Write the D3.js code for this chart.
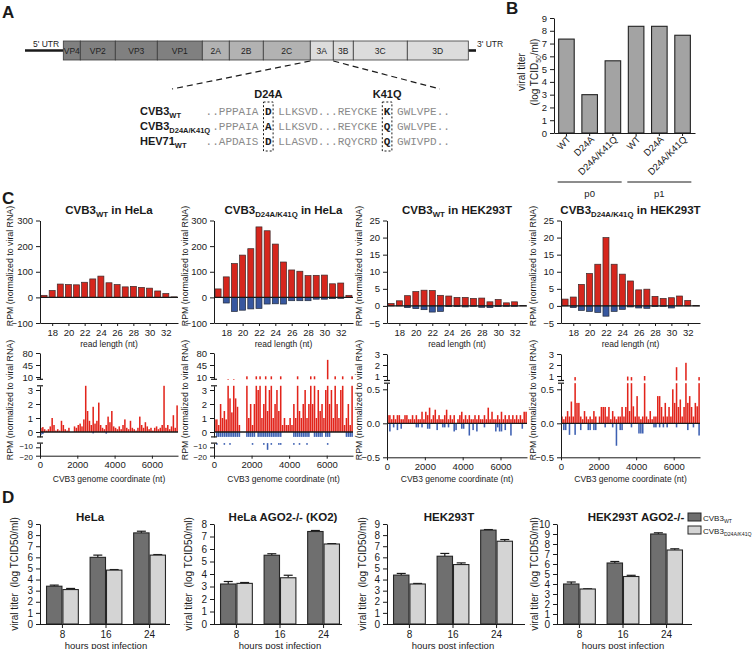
<!DOCTYPE html>
<html><head><meta charset="utf-8">
<script src="https://cdn.jsdelivr.net/npm/d3@7/dist/d3.min.js"></script>
<style>html,body{margin:0;padding:0;background:#fff;} text{white-space:pre;}</style>
</head><body>
<script>
// ======================= DATA =======================
// Panel A – genome map and alignment
const genomeSegments   = ["VP4","VP2","VP3","VP1","2A","2B","2C","3A","3B","3C","3D"];
const genomeSegLengths = [17,35,42,45,27,34,47,23,20,54,61];
const genomeSegRegion  = ["P1","P1","P1","P1","P2","P2","P2","P3","P3","P3","P3"];
const seqNames    = ["CVB3","CVB3","HEV71"];
const seqNameSubs = ["WT","D24A/K41Q","WT"];
const seqLeft  = ["..PPPAIA","..PPPAIA","..APDAIS"];
const seqSite1 = ["D","A","D"];
const seqMid   = ["LLKSVD...REYCKE","LLKSVD...REYCKE","LLASVD...RQYCRD"];
const seqSite2 = ["K","Q","Q"];
const seqRight = ["GWLVPE..","GWLVPE..","GWIVPD.."];
const mutationLabels = ["D24A","K41Q"];

// Panel B – viral titer
const titerCategories = ["WT","D24A","D24A/K41Q","WT","D24A","D24A/K41Q"];
const titerPassage    = ["p0","p0","p0","p1","p1","p1"];
const titerValues     = [7.35,3.0,5.65,8.35,8.35,7.65];
const titerTicks      = [0,1,2,3,4,5,6,7,8,9];

// Panel C row 1 – read length distributions
const readLengths   = [17,18,19,20,21,22,23,24,25,26,27,28,29,30,31,32,33];
const rlTickValues  = [18,20,22,24,26,28,30,32];
const rlSubs        = ["WT","D24A/K41Q","WT","D24A/K41Q"];
const rlCells       = ["HeLa","HeLa","HEK293T","HEK293T"];
const rlTicksHela   = [-100,0,100,200,300];
const rlTicksHek    = [-5,0,5,10,15,20,25];
const rlWtHelaPos   = [8,27,52,50,49,59,72,83,57,50,41,43,39,36,25,15,2];
const rlWtHelaNeg   = [0,0,0,0,0,0,0,0,0,0,0,0,0,0,0,0,0];
const rlMutHelaPos  = [33,80,132,165,190,275,260,208,138,107,102,85,86,87,53,56,8];
const rlMutHelaNeg  = [0,-22,-55,-50,-45,-43,-26,-25,-26,-13,-13,-13,-7,-7,-5,-4,0];
const rlWtHekPos    = [0.7,1.5,3.0,4.2,4.6,4.5,3.1,2.9,2.5,2.5,2.2,2.3,1.2,1.9,0.9,1.2,0.1];
const rlWtHekNeg    = [0,0,-0.5,-0.8,-1.1,-1.8,-1.6,-0.2,-0.2,-0.3,-0.1,-0.4,-0.5,-0.2,-0.1,-0.1,0];
const rlMutHekPos   = [2.0,2.6,6.3,9.5,12.2,20,12.2,9.3,7.3,4.7,4.9,2.8,2.2,2.4,2.9,1.6,0.1];
const rlMutHekNeg   = [0,-0.5,-1.3,-1.6,-1.9,-3.0,-1.6,-1.0,-0.3,-0.6,-0.7,-0.2,-0.1,-0.6,0,0,0];

// Panel C row 2 – coverage along genome (100-nt bins)
const covBinStarts = d3.range(0, 7400, 100);
const covTicks     = [0,2000,4000,6000];
const covWtHelaPos = [0.3,0.35,0.2,0.1,0.2,0.4,1.0,0.5,0.1,0.2, 0.1,0.8,0.5,0.2,0.1,0.3,0,0,0.4,0.3,
  0.5,0.6,0.4,0.9,3.3,1.5,0.8,0.5,1.8,0.6, 0.8,2.1,0.5,0.3,0.2,0.5,1.1,0.7,1.5,0.4,
  0.3,0.2,0.4,0.2,0.5,0.9,0.3,0.2,0.8,0.3, 0.2,0.1,0.3,1.1,0.5,0.3,0.7,0.4,0.2,0.3,
  0.1,0.3,0.4,0.2,0.3,0.5,3.3,0.3,0.5,0.2, 0.4,1.2,0.3,1.9];
const covWtHelaNeg = [-0.2,-0.15,0,0,0,0,0,0,0,0, 0,0,0,0,0,0,0,0,0,0, 0,0,0,0,0,0,0,0,-0.1,0,
  0,0,0,0,0,-0.12,0,0,0,0, 0,0,0,0,0,0,0,0,0,0, 0,0,0,0,0,0,0,0,0,0, 0,0,0,0,0,0,0,0,0,0, 0,0,0,0];
const covMutHelaPos = [0.9,0.9,0.5,2.0,1.0,1.5,0.9,3.4,2.4,1.4, 3.4,2.4,1.8,0.5,0,0,0,12,1.0,2.0,
  0.5,2.0,12,3.0,12,1.0,2.0,12,1.5,3.0, 12,1.0,2.0,3.0,1.5,12,0.5,1.0,0.5,0.5,
  1.0,0.5,2.0,1.0,12,1.5,1.0,2.0,3.0,1.0, 2.0,12,2.0,12,1.0,3.0,1.5,2.0,1.0,3.0,
  60,2.0,3.0,1.0,12,2.0,1.0,3.0,12,0.5, 1.0,2.0,0.5,12];
const covMutHelaNeg = [0,-7,-0.4,-0.4,-0.4,-7,-0.4,-0.4,-7,-0.4, -0.4,-0.4,-0.4,-0.4,0,0,0,-0.4,-0.4,-0.4,
  -7,-0.4,0,-0.4,-0.4,-0.4,-7,-0.4,-13,-0.4, -7,-0.4,-0.4,-0.4,-7,-7,0,0,0,0,
  0,0,-7,-0.4,-0.4,-7,-0.4,-0.4,-0.4,-7, -0.4,0,0,-0.4,-0.4,-0.4,-0.4,-0.4,0,-0.4,
  -7,-0.4,0,0,0,0,0,0,0,0, -0.4,-0.4,-0.4,-0.4];
const covWtHekPos = [0.12,0.12,0.06,0.12,0.06,0.12,0.12,0.06,0.06,0.12, 0.12,0.06,0.06,0.12,0.06,0.12,0.06,0.06,0.17,0.06,
  0.17,0.12,0.23,0.06,0.12,0.2,0.06,0.12,0.06,0.06, 0.12,0.2,0.06,0.12,0.06,0.12,0,0.06,0.12,0.17,
  0.06,0.12,0.06,0.12,0.06,0.06,0.12,0.06,0.12,0.06, 0.06,0.12,0.06,0.23,0.06,0.17,0.06,0.06,0.12,0.06,
  0.17,0.06,0.12,0.06,0.12,0.06,0.12,0.06,0.12,0.06, 0.12,0.06,0.17,0.17];
const covWtHekNeg = [0,-0.12,0,-0.06,0,-0.1,0,-0.08,0,0, 0,0,0,0,0,-0.06,-0.06,0,-0.06,0,
  0,-0.08,-0.08,0,0,0,-0.1,0,0,-0.06, -0.06,0,-0.06,0,0,-0.12,-0.1,0,0,-0.08,
  -0.08,0,0,-0.18,0,-0.1,0,-0.12,0,0, 0,-0.06,0,0,0,0,0,-0.12,-0.06,-0.12,
  -0.12,0,-0.1,0,0,-0.18,0,0,0,0, 0,-0.08,0,0];
const covMutHekPos = [0.1,0.06,0.1,0.18,0.1,0.32,0.1,0.9,0.3,0.3, 0.1,0.06,0.18,0.1,0.06,0.1,0.06,0.18,0.1,0,
  0.1,0.24,0.24,0.24,0.1,0.24,0.06,0.18,0.1,0.06, 0.1,0.1,0.24,0.1,0.24,0.95,0.18,0.9,0.25,0.1,
  0.4,0.1,0.06,0.1,1.0,0.1,0.06,0.18,0.06,0.1, 0.1,0.4,0.4,0.24,0.1,0.3,0.1,0.24,0.1,0.5,
  0.3,1.8,0.24,0.35,0.1,0.24,2.2,0.3,0.4,0.24, 0.1,0.3,0.25,0.9];
const covMutHekNeg = [0,-0.1,-0.1,0,-0.17,0,0,-0.17,0,0, -0.1,0,0,0,-0.1,-0.1,0,-0.1,-0.1,0,
  0,0,0,-0.06,0,0,0,-0.06,0,-0.33, 0,-0.1,-0.1,0,0,0,0,-0.06,0,0,
  0,-0.15,-0.15,-0.15,0,0,0,0,0,-0.06, -0.06,0,-0.06,0,-0.06,0,-0.06,0,0,0,
  0,-0.06,0,0,0,0,0,-0.1,0,0, -0.06,0,0,-0.18];

// Panel D – growth curves
const hoursPI = [8,16,24];
const dTitles = ["HeLa","HeLa AGO2-/- (KO2)","HEK293T","HEK293T AGO2-/-"];
const dYMax   = [9,8,9,10];
const dHelaWT = [3.4,6.0,8.2],   dHelaWTErr = [0.1,0.2,0.15];
const dHelaMut= [3.1,4.85,6.2],  dHelaMutErr= [0.1,0.05,0.05];
const dKo2WT  = [3.2,5.5,7.4],   dKo2WTErr  = [0.2,0.12,0.08];
const dKo2Mut = [3.25,3.7,6.4],  dKo2MutErr = [0.07,0.2,0.03];
const dHekWT  = [4.4,6.1,8.45],  dHekWTErr  = [0.15,0.25,0.05];
const dHekMut = [3.6,5.35,7.45], dHekMutErr = [0.05,0.15,0.15];
const dHekKoWT= [4.0,6.1,9.0],   dHekKoWTErr= [0.2,0.15,0.12];
const dHekKoMut=[3.5,4.75,7.4],  dHekKoMutErr=[0.02,0.12,0.12];
const legendSubs = ["WT","D24A/K41Q"];

// ======================= DRAWING =======================
const FONT = "'Liberation Sans', Arial, Helvetica, sans-serif";
const MONO = "'Liberation Mono', 'Courier New', monospace";
const RED = "#d6261d", BLUE = "#37579f", RED2 = "#e2241b", BLUE2 = "#3d60b2";
const INK = "#1a1a1a";

const svg = d3.select("body").append("svg").attr("width",754).attr("height",649)
  .attr("font-family",FONT);
svg.append("rect").attr("width",754).attr("height",649).attr("fill","#fff");

function rich(parent, x, y, parts, size, attrs) {
  const t = parent.append("text").attr("x", x).attr("y", y).attr("font-size", size).attr("fill", INK);
  if (attrs) Object.entries(attrs).forEach(([k,v]) => t.attr(k,v));
  let cur = 0;
  parts.forEach(p => {
    const target = p.sub ? size*0.3 : 0;
    const ts = t.append("tspan").text(p.t);
    if (target !== cur) ts.attr("dy", target - cur);
    cur = target;
    if (p.sub) ts.attr("font-size", (p.subSize || size*0.68).toFixed(1));
  });
  return t;
}
function styleAxis(g, fs) {
  g.attr("font-family", FONT).attr("font-size", fs || 9);
  g.selectAll("path.domain").attr("stroke", INK).attr("stroke-width", 1);
  g.selectAll(".tick line").attr("stroke", INK);
  g.selectAll(".tick text").attr("fill", INK);
}
function vLabel(x, yc, parts, size, bold) {
  const g = svg.append("g").attr("transform", `translate(${x},${yc}) rotate(-90)`);
  rich(g, 0, 0, parts, size, {"text-anchor":"middle", "font-weight": bold ? "bold" : "normal"});
}

// Panel letters
const panelLetters = ["A","B","C","D"];
const letterPos = [[2,18],[506,14],[2,204],[2,503]];
panelLetters.forEach((l,i) => svg.append("text").attr("x",letterPos[i][0]).attr("y",letterPos[i][1])
  .attr("font-size",17).attr("font-weight","bold").attr("fill",INK).text(l));

// ---------- Panel A ----------
(function(){
  const total = d3.sum(genomeSegLengths);
  const gx = d3.scaleLinear().domain([0,total]).range([63.3,468.3]);
  const starts = d3.cumsum([0, ...genomeSegLengths]);
  const regionFill = {P1:"#808080", P2:"#b2b2b2", P3:"#dcdcdc"};
  const g = svg.append("g");
  g.append("line").attr("x1",25).attr("x2",gx(0)).attr("y1",50.5).attr("y2",50.5).attr("stroke",INK).attr("stroke-width",2.6);
  g.append("line").attr("x1",gx(total)).attr("x2",476).attr("y1",50.5).attr("y2",50.5).attr("stroke",INK).attr("stroke-width",2.6);
  g.selectAll("rect.seg").data(genomeSegments).join("rect")
    .attr("x",(d,i)=>gx(starts[i])).attr("y",41).attr("width",(d,i)=>gx(genomeSegLengths[i])-gx(0)).attr("height",19)
    .attr("fill",(d,i)=>regionFill[genomeSegRegion[i]]).attr("stroke","#3a3a3a").attr("stroke-width",0.8);
  g.selectAll("text.seg").data(genomeSegments).join("text")
    .attr("x",(d,i)=>gx(starts[i]+genomeSegLengths[i]/2)).attr("y",54).attr("text-anchor","middle")
    .attr("font-size",8.5).attr("fill","#222").text(d=>d);
  g.append("text").attr("x",33).attr("y",47).attr("font-size",8.5).attr("fill","#222").text("5' UTR");
  g.append("text").attr("x",477).attr("y",47).attr("font-size",8.5).attr("fill","#222").text("3' UTR");
  const i3A = genomeSegments.indexOf("3A");
  g.append("line").attr("x1",gx(starts[i3A])).attr("y1",61).attr("x2",172).attr("y2",89)
    .attr("stroke",INK).attr("stroke-width",1.2).attr("stroke-dasharray","6,4");
  g.append("line").attr("x1",gx(starts[i3A+1])).attr("y1",61).attr("x2",440).attr("y2",89)
    .attr("stroke",INK).attr("stroke-width",1.2).attr("stroke-dasharray","6,4");

  const x0 = 205.6, cw = 6.6, rowsY = [115,130,145];
  const col1 = seqLeft[0].length + 1;
  const col2 = col1 + 2 + seqMid[0].length + 1;
  [col1, col2].forEach((c,k) => {
    g.append("text").attr("x", x0 + (c+0.5)*cw).attr("y",98).attr("text-anchor","middle")
      .attr("font-size",11).attr("font-weight","bold").attr("fill",INK).text(mutationLabels[k]);
    g.append("rect").attr("x", x0 + c*cw - 1.5).attr("y",102).attr("width",cw+3).attr("height",49)
      .attr("fill","none").attr("stroke",INK).attr("stroke-width",1).attr("stroke-dasharray","2,2");
  });
  seqNames.forEach((n,i) => {
    rich(g, 140, rowsY[i], [{t:n},{t:seqNameSubs[i],sub:true}], 11, {"font-weight":"bold"});
    const t = g.append("text").attr("x",x0).attr("y",rowsY[i]).attr("font-family",MONO).attr("font-size",11).attr("fill","#8a8a8a");
    t.append("tspan").text(seqLeft[i] + " ");
    t.append("tspan").attr("font-weight","bold").attr("fill",INK).text(seqSite1[i]);
    t.append("tspan").text(" " + seqMid[i] + " ");
    t.append("tspan").attr("font-weight","bold").attr("fill",INK).text(seqSite2[i]);
    t.append("tspan").text(" " + seqRight[i]);
  });
})();

// ---------- Panel B ----------
(function(){
  const idx = titerCategories.map((d,i)=>i);
  const x = d3.scaleBand().domain(idx).range([554,695]).paddingInner(0.33).paddingOuter(0.2);
  const y = d3.scaleLinear().domain([0,9]).range([133,18]);
  const g = svg.append("g");
  g.selectAll("rect").data(titerValues).join("rect")
    .attr("x",(d,i)=>x(i)).attr("y",d=>y(d)).attr("width",x.bandwidth()).attr("height",d=>y(0)-y(d))
    .attr("fill","#a3a3a3").attr("stroke","#222").attr("stroke-width",1.1);
  const ya = g.append("g").attr("transform","translate(554,0)").call(d3.axisLeft(y).tickValues(titerTicks).tickSize(4).tickSizeOuter(0));
  styleAxis(ya, 9.5);
  const xa = g.append("g").attr("transform","translate(0,133)").call(d3.axisBottom(x).tickValues([]).tickSizeOuter(0));
  styleAxis(xa);
  titerCategories.forEach((c,i) => {
    const cx = x(i) + x.bandwidth()/2;
    g.append("line").attr("x1",cx).attr("x2",cx).attr("y1",133).attr("y2",136).attr("stroke",INK);
    g.append("text").attr("transform",`translate(${cx+5},${140}) rotate(-45)`).attr("text-anchor","end")
      .attr("font-size",9.5).attr("fill",INK).text(c);
  });
  ["p0","p1"].forEach(p => {
    const ids = idx.filter(i => titerPassage[i] === p);
    const a = x(ids[0]) - 1, b = x(ids[ids.length-1]) + x.bandwidth() + 1;
    g.append("line").attr("x1",a).attr("x2",b).attr("y1",182).attr("y2",182).attr("stroke",INK).attr("stroke-width",1);
    g.append("text").attr("x",(a+b)/2).attr("y",197).attr("text-anchor","middle").attr("font-size",9.5).attr("fill",INK).text(p);
  });
  vLabel(525, 72, [{t:"viral titer"}], 10);
  vLabel(538, 72, [{t:"(log TCID"},{t:"50",sub:true},{t:"/ml)"}], 10);
})();

// ---------- Panel C ----------
const cX = [[40,178],[214,353],[387,527],[561,700]];
const cLabelX = [13,188,362,536];
const rlPos = [rlWtHelaPos, rlMutHelaPos, rlWtHekPos, rlMutHekPos];
const rlNeg = [rlWtHelaNeg, rlMutHelaNeg, rlWtHekNeg, rlMutHekNeg];
const rlTicks = [rlTicksHela, rlTicksHela, rlTicksHek, rlTicksHek];

rlPos.forEach((pos,i) => {
  const [xa,xb] = cX[i];
  const x = d3.scaleLinear().domain([16.5,33.5]).range([xa,xb]);
  const tk = rlTicks[i];
  const y = d3.scaleLinear().domain([tk[0], tk[tk.length-1]]).range([323,220.5]);
  const g = svg.append("g");
  const bw = 6;
  const pd = readLengths.map((r,j)=>({r, v: pos[j]})).filter(d=>d.v>0);
  const nd = readLengths.map((r,j)=>({r, v: rlNeg[i][j]})).filter(d=>d.v<0);
  g.selectAll("rect.p").data(pd).join("rect").attr("x",d=>x(d.r)-bw/2).attr("y",d=>y(d.v))
    .attr("width",bw).attr("height",d=>y(0)-y(d.v)).attr("fill",RED).attr("stroke","#3a2a2a").attr("stroke-width",0.7);
  g.selectAll("rect.n").data(nd).join("rect").attr("x",d=>x(d.r)-bw/2).attr("y",y(0))
    .attr("width",bw).attr("height",d=>y(d.v)-y(0)).attr("fill",BLUE).attr("stroke","#222a3a").attr("stroke-width",0.7);
  g.append("line").attr("x1",xa).attr("x2",xb).attr("y1",y(0)).attr("y2",y(0)).attr("stroke",INK).attr("stroke-width",1.3);
  const ya = g.append("g").attr("transform",`translate(${xa},0)`).call(d3.axisLeft(y).tickValues(tk).tickSize(4).tickSizeOuter(0));
  styleAxis(ya, 9.5);
  const xaG = g.append("g").attr("transform",`translate(0,323)`).call(d3.axisBottom(x).tickValues(rlTickValues).tickSize(3).tickSizeOuter(0));
  styleAxis(xaG, 9.5);
  g.append("text").attr("x",(xa+xb)/2).attr("y",347).attr("text-anchor","middle").attr("font-size",8.5).attr("fill",INK).text("read length (nt)");
  rich(g, (xa+xb)/2, 214, [{t:"CVB3"},{t:rlSubs[i],sub:true},{t:" in "+rlCells[i]}], 11.5, {"text-anchor":"middle","font-weight":"bold"});
  vLabel(cLabelX[i], 266, [{t:"RPM (normalized to viral RNA)"}], 8.8);
});

// Row 2 – coverage with broken axes
const helaSegs = [
  {dom:[10,80], rng:[377,353], ext:[3.3,80], ticks:[10,45,80], fmt:"d"},
  {dom:[0,3], rng:[432,390], ext:[-0.35,3.3], ticks:[0,1,2,3], fmt:"d"},
  {dom:[-20,-10], rng:[455.7,447.3], ext:[-20,-5], ticks:[-20,-10], fmt:"d", fs:8, nudge:{"-10":-1.2,"-20":1.2}}
];
const hekSegs = [
  {dom:[1,3], rng:[376,354], ext:[0.59,3], ticks:[1,2,3], fmt:"d"},
  {dom:[-0.5,0.5], rng:[457.3,389.3], ext:[-0.5,0.59], ticks:[-0.5,0,0.5], fmt:".1f"}
];
const covPos = [covWtHelaPos, covMutHelaPos, covWtHekPos, covMutHekPos];
const covNeg = [covWtHelaNeg, covMutHelaNeg, covWtHekNeg, covMutHekNeg];
const covSegs = [helaSegs, helaSegs, hekSegs, hekSegs];

covPos.forEach((pos,i) => {
  const [xa,xb] = cX[i];
  const x = d3.scaleLinear().domain([0,7400]).range([xa,xb]);
  const segs = covSegs[i].map(s => {
    const base = d3.scaleLinear().domain(s.dom).range(s.rng);
    return Object.assign({}, s, {scale: d3.scaleLinear().domain(s.ext).range(s.ext.map(base))});
  });
  const g = svg.append("g");
  const bw = (x(100)-x(0))*0.82;
  const pieces = [];
  [[pos, RED2],[covNeg[i], BLUE2]].forEach(([arr,col]) => {
    arr.forEach((v,j) => {
      if (!v) return;
      const lo0 = Math.min(0,v), hi0 = Math.max(0,v);
      segs.forEach(s => {
        const lo = Math.max(lo0, s.ext[0]), hi = Math.min(hi0, s.ext[1]);
        if (hi > lo) pieces.push({x: x(covBinStarts[j]), y: s.scale(hi), h: s.scale(lo)-s.scale(hi), col});
      });
    });
  });
  g.selectAll("rect").data(pieces).join("rect").attr("x",d=>d.x+0.2).attr("y",d=>d.y).attr("width",bw)
    .attr("height",d=>Math.max(d.h,0.6)).attr("fill",d=>d.col);
  const mid = segs.find(s => s.ext[0] < 0 && s.ext[1] > 0);
  g.append("line").attr("x1",xa).attr("x2",xb).attr("y1",mid.scale(0)).attr("y2",mid.scale(0)).attr("stroke",INK).attr("stroke-width",1.3);
  segs.forEach((s,k) => {
    const a = g.append("g").attr("transform",`translate(${xa},0)`)
      .call(d3.axisLeft(s.scale).tickValues(s.ticks).tickFormat(d3.format(s.fmt)).tickSize(4).tickSizeOuter(0));
    styleAxis(a, s.fs || 9.5);
    if (s.nudge) a.selectAll(".tick text").attr("y", d => s.nudge[String(d)] || 0);
    if (k > 0) g.append("line").attr("x1",xa-3).attr("x2",xa+3).attr("y1",s.scale(s.ext[1])).attr("y2",s.scale(s.ext[1])).attr("stroke",INK).attr("stroke-width",1.2);
    if (k < segs.length-1) g.append("line").attr("x1",xa-3).attr("x2",xa+3).attr("y1",s.scale(s.ext[0])).attr("y2",s.scale(s.ext[0])).attr("stroke",INK).attr("stroke-width",1.2);
  });
  const last = segs[segs.length-1];
  const yb = last.scale(last.ext[0]);
  const xg = g.append("g").attr("transform",`translate(0,${yb})`)
    .call(d3.axisBottom(x).tickValues(covTicks).tickFormat(d3.format("d")).tickSize(3).tickSizeOuter(0));
  styleAxis(xg, 9.5);
  g.append("text").attr("x",(xa+xb)/2).attr("y",482).attr("text-anchor","middle").attr("font-size",8.5).attr("fill",INK).text("CVB3 genome coordinate (nt)");
  vLabel(cLabelX[i], 400, [{t:"RPM (normalized to viral RNA)"}], 8.8);
});

// ---------- Panel D ----------
const dAx = [[40,170],[214,342],[387,525],[557,692]];
const dTitleX = [90,283,449,636];
const dLabelX = [18,192,366,538];
const dWT = [dHelaWT, dKo2WT, dHekWT, dHekKoWT];
const dWTErr = [dHelaWTErr, dKo2WTErr, dHekWTErr, dHekKoWTErr];
const dMut = [dHelaMut, dKo2Mut, dHekMut, dHekKoMut];
const dMutErr = [dHelaMutErr, dKo2MutErr, dHekMutErr, dHekKoMutErr];
const DARK = "#6f6f6f", LIGHT = "#d4d4d4";

dWT.forEach((wt,i) => {
  const [ax, axEnd] = dAx[i];
  const x0 = d3.scaleBand().domain(hoursPI).range([ax, ax+132]).paddingInner(0.27).paddingOuter(0.15);
  const x1 = d3.scaleBand().domain([0,1]).range([0, x0.bandwidth()]).paddingInner(0.06);
  const y = d3.scaleLinear().domain([0, dYMax[i]]).range([624, 524]);
  const g = svg.append("g");
  const series = [[wt, dWTErr[i], DARK],[dMut[i], dMutErr[i], LIGHT]];
  series.forEach(([vals, errs, col], s) => {
    hoursPI.forEach((h,j) => {
      const bx = x0(h) + x1(s), bw = x1.bandwidth(), cx = bx + bw/2;
      g.append("line").attr("x1",cx).attr("x2",cx).attr("y1",y(vals[j])).attr("y2",y(vals[j]+errs[j])).attr("stroke",INK).attr("stroke-width",1.2);
      g.append("line").attr("x1",cx-4.5).attr("x2",cx+4.5).attr("y1",y(vals[j]+errs[j])).attr("y2",y(vals[j]+errs[j])).attr("stroke",INK).attr("stroke-width",1.2);
      g.append("rect").attr("x",bx).attr("y",y(vals[j])).attr("width",bw).attr("height",y(0)-y(vals[j]))
        .attr("fill",col).attr("stroke","#262626").attr("stroke-width",1.1);
    });
  });
  const ya = g.append("g").attr("transform",`translate(${ax},0)`).call(d3.axisLeft(y).ticks(dYMax[i]).tickSize(4).tickSizeOuter(0));
  styleAxis(ya, 10);
  g.append("line").attr("x1",ax).attr("x2",axEnd).attr("y1",624.5).attr("y2",624.5).attr("stroke",INK).attr("stroke-width",1);
  hoursPI.forEach(h => {
    const cx = x0(h) + x0.bandwidth()/2;
    g.append("line").attr("x1",cx).attr("x2",cx).attr("y1",624.5).attr("y2",628).attr("stroke",INK);
    g.append("text").attr("x",cx).attr("y",637.5).attr("text-anchor","middle").attr("font-size",10).attr("fill",INK).text(h);
  });
  g.append("text").attr("x",x0(16)+x0.bandwidth()/2).attr("y",648.5).attr("text-anchor","middle").attr("font-size",9.5).attr("fill",INK).text("hours post infection");
  g.append("text").attr("x",dTitleX[i]).attr("y",521).attr("text-anchor","middle").attr("font-size",11.5).attr("font-weight","bold").attr("fill",INK).text(dTitles[i]);
  vLabel(dLabelX[i], 574, [{t:"viral titer  (log TCID50/ml)"}], 10);
});
// Legend
legendSubs.forEach((s,k) => {
  const yy = 513 + k*13;
  svg.append("rect").attr("x",688).attr("y",yy).attr("width",13).attr("height",8)
    .attr("fill", k ? LIGHT : DARK).attr("stroke","#262626").attr("stroke-width",1);
  rich(svg, 703, yy+7.5, [{t:"CVB3"},{t:s, sub:true, subSize: 5.2}], 8);
});
</script></body></html>
